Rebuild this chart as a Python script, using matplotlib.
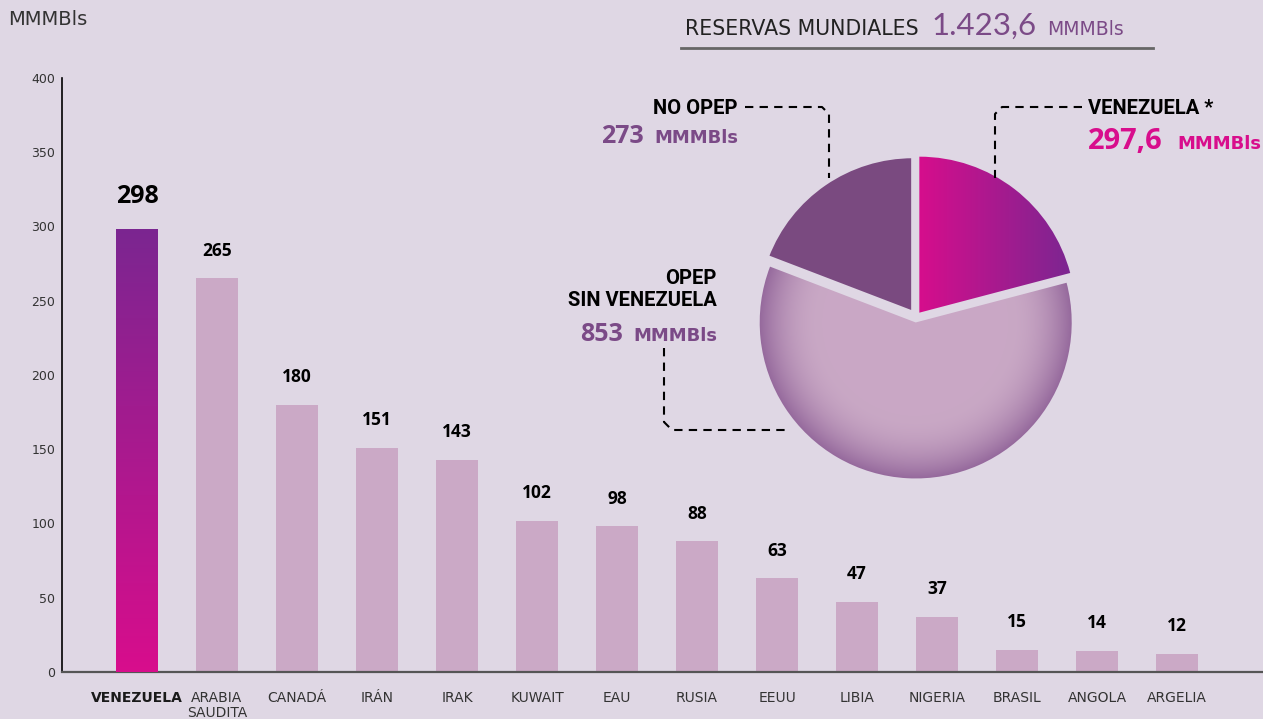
import matplotlib
matplotlib.use('Agg')
import matplotlib.pyplot as plt
import numpy as np
from matplotlib.lines import Line2D
from matplotlib.colors import to_rgb

# bar data (MMMBls)
countries = ['VENEZUELA', 'ARABIA\nSAUDITA', 'CANADÁ', 'IRÁN', 'IRAK', 'KUWAIT', 'EAU',
             'RUSIA', 'EEUU', 'LIBIA', 'NIGERIA', 'BRASIL', 'ANGOLA', 'ARGELIA']
reserves = [298, 265, 180, 151, 143, 102, 98, 88, 63, 47, 37, 15, 14, 12]
yticks = [0, 50, 100, 150, 200, 250, 300, 350, 400]

# pie data (clockwise from the top)
pie_names = ['VENEZUELA *', 'OPEP\nSIN VENEZUELA', 'NO OPEP']
pie_values = [297.6, 853, 273]
pie_numbers = ['297,6', '853', '273']
total_text = '1.423,6'

BG = '#DFD7E4'
BAR = '#CBA9C6'
MAGENTA = '#D80D8C'
DEEP = '#7B2691'
PTEXT = '#7B4A87'
NOOPEP = '#7A4A80'

W, H = 1263, 719
fig = plt.figure(figsize=(W / 100, H / 100), dpi=100, facecolor=BG)


def fx(x):
    return x / W


def fy(y):
    return 1 - y / H


NARROW = ['Roboto', 'DejaVu Sans']
OPEN = ['Open Sans', 'DejaVu Sans']

# ---------------- bar chart ----------------
ax = fig.add_axes([fx(62), 47 / H, (W - 62) / W, 594 / H])
ax.set_facecolor('none')
x = np.arange(len(countries))
bars = ax.bar(x, reserves, width=0.525, color=BAR, zorder=2)

# gradient on the first bar
b0 = bars[0]
grad = np.linspace(0, 1, 256)[:, None]
c_top, c_bot = np.array(to_rgb(DEEP)), np.array(to_rgb(MAGENTA))
img = c_bot[None, None, :] * (1 - grad[:, :, None]) + c_top[None, None, :] * grad[:, :, None]
im = ax.imshow(img, extent=(b0.get_x(), b0.get_x() + b0.get_width(), 0, b0.get_height()),
               origin='lower', aspect='auto', zorder=3)
im.set_clip_path(b0)
b0.set_facecolor('none')
ax.set_xlim(-0.9375, -0.9375 + (W - 62) / 80)
ax.set_ylim(0, 400)

for i, v in enumerate(reserves):
    if i == 0:
        ax.annotate(str(v), (i, v), xytext=(0, 24), textcoords='offset points',
                    ha='center', va='center', fontsize=18, fontweight='bold',
                    family=OPEN, color='black')
    else:
        ax.annotate(str(v), (i, v), xytext=(0, 20), textcoords='offset points',
                    ha='center', va='center', fontsize=12.5, fontweight='bold',
                    family=OPEN, color='black')

ax.set_xticks(x)
ax.set_xticklabels(countries, fontsize=10, color='#333333', linespacing=1.05)
ax.get_xticklabels()[0].set_fontweight('bold')
ax.get_xticklabels()[0].set_color('#1a1a1a')
ax.set_yticks(yticks)
ax.set_yticklabels([str(t) for t in yticks], fontsize=9, color='#333333')
ax.tick_params(axis='x', length=0, pad=14)
ax.tick_params(axis='y', length=0, pad=5)
for s in ['top', 'right']:
    ax.spines[s].set_visible(False)
ax.spines['left'].set_color('black')
ax.spines['left'].set_linewidth(1.2)
ax.spines['bottom'].set_color('#555555')
ax.spines['bottom'].set_linewidth(1.6)

fig.text(fx(8), fy(25), 'MMMBls', fontsize=14, color='#333333', va='baseline')

# ---------------- pie ----------------
cx, cy, rad, half = 916, 317, 156, 200
ax2 = fig.add_axes([fx(cx - half), 1 - (cy + half) / H, 2 * half / W, 2 * half / H])
explode = [0.035, 0.035, 0.035]
wedges, _ = ax2.pie(pie_values, startangle=90, counterclock=False, explode=explode,
                    colors=[MAGENTA, BAR, NOOPEP],
                    wedgeprops=dict(edgecolor=BG, linewidth=2.5))
lim = half / rad
n = 400
gx, gy = np.meshgrid(np.linspace(-lim, lim, n), np.linspace(-lim, lim, n))

# Venezuela wedge: horizontal gradient magenta -> purple
t = np.clip(gx, 0, 1)[:, :, None]
img_v = np.array(to_rgb(MAGENTA)) * (1 - t) + np.array(to_rgb(DEEP)) * t
iv = ax2.imshow(img_v, extent=(-lim, lim, -lim, lim), origin='lower', zorder=3)
iv.set_clip_path(wedges[0])

# big wedge: radial shading
ccx, ccy = wedges[1].center
r = np.hypot(gx - ccx, gy - ccy)
s = np.clip((r - 0.6) / 0.4, 0, 1) ** 2
light, dark = np.array(to_rgb('#C9A8C5')), np.array(to_rgb('#966A9D'))
img_b = light * (1 - s[:, :, None]) + dark * s[:, :, None]
ib = ax2.imshow(img_b, extent=(-lim, lim, -lim, lim), origin='lower', zorder=3)
ib.set_clip_path(wedges[1])

ax2.set_xlim(-lim, lim)
ax2.set_ylim(-lim, lim)
ax2.set_aspect('equal')
ax2.axis('off')

# header
fig.text(fx(685), fy(35), 'RESERVAS MUNDIALES', fontsize=14.8, color='#222222', va='baseline')
fig.text(fx(931), fy(35), total_text, fontsize=22.5, color=PTEXT, va='baseline',
         family=['Lato', 'DejaVu Sans'])
fig.text(fx(1047), fy(35), 'MMMBls', fontsize=13.5, color=PTEXT, va='baseline')
fig.add_artist(Line2D([fx(681), fx(1153)], [fy(48), fy(48)], color='#666666', lw=2))

# pie labels
fig.text(fx(738), fy(114), pie_names[2], fontsize=14.5, fontweight='bold', family=NARROW,
         ha='right', va='baseline', color='black')
fig.text(fx(738), fy(143), 'MMMBls', fontsize=13, fontweight='bold',
         ha='right', va='baseline', color=PTEXT)
fig.text(fx(644), fy(143), pie_numbers[2], fontsize=18, fontweight='bold', family=OPEN,
         ha='right', va='baseline', color=PTEXT)

fig.text(fx(1088), fy(114), pie_names[0], fontsize=14.5, fontweight='bold', family=NARROW,
         ha='left', va='baseline', color='black')
fig.text(fx(1088), fy(149), pie_numbers[0], fontsize=21, fontweight='bold', family=OPEN,
         ha='left', va='baseline', color=MAGENTA)
fig.text(fx(1261), fy(149), 'MMMBls', fontsize=13, fontweight='bold',
         ha='right', va='baseline', color=MAGENTA)

fig.text(fx(717), fy(306), pie_names[1], fontsize=14.5, fontweight='bold', family=NARROW,
         ha='right', va='baseline', color='black', multialignment='right', linespacing=1.2)
fig.text(fx(717), fy(341), 'MMMBls', fontsize=13, fontweight='bold',
         ha='right', va='baseline', color=PTEXT)
fig.text(fx(623), fy(341), pie_numbers[1], fontsize=18, fontweight='bold', family=OPEN,
         ha='right', va='baseline', color=PTEXT)

# dashed leader lines
leaders = [
    [(745, 107), (822, 107), (829, 114), (829, 178)],
    [(1082, 107), (1002, 107), (995, 114), (995, 178)],
    [(664, 348), (664, 422), (672, 430), (790, 430)],
]
for pts in leaders:
    xs = [fx(p[0]) for p in pts]
    ys = [fy(p[1]) for p in pts]
    fig.add_artist(Line2D(xs, ys, color='black', lw=1.5, linestyle=(0, (4, 3))))

fig.savefig('out.png', dpi=100, facecolor=BG)
